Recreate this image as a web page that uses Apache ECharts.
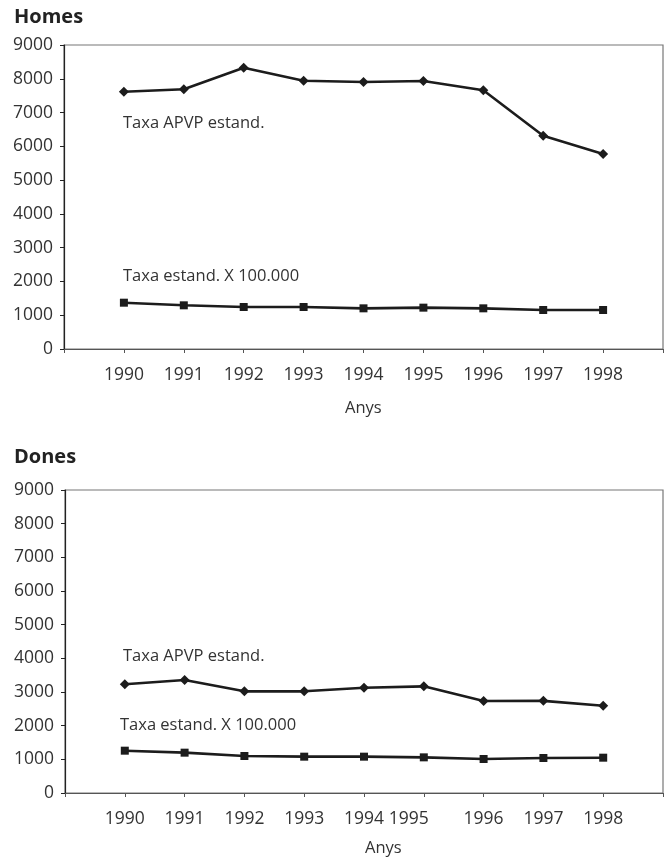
<!DOCTYPE html>
<html>
<head>
<meta charset="utf-8">
<script src="https://cdn.jsdelivr.net/npm/echarts@6/dist/echarts.min.js"></script>
<style>
html,body{margin:0;padding:0;background:#fff;}
#c{width:666px;height:861px;}
</style>
</head>
<body>
<div id="c"></div>
<script>
const years = [1990, 1991, 1992, 1993, 1994, 1995, 1996, 1997, 1998];
const homesAPVP = [7617, 7688, 8328, 7943, 7904, 7934, 7658, 6315, 5773];
const homesTaxa = [1371, 1293, 1243, 1243, 1204, 1224, 1204, 1155, 1155];
const donesAPVP = [3228, 3356, 3020, 3020, 3128, 3168, 2732, 2737, 2593];
const donesTaxa = [1257, 1198, 1099, 1079, 1079, 1059, 1010, 1040, 1049];
const yTicks = [0, 1000, 2000, 3000, 4000, 5000, 6000, 7000, 8000, 9000];
const panelTitles = ['Homes', 'Dones'];
const xName = 'Anys';
const labelAPVP = 'Taxa APVP estand.';
const labelTaxa = 'Taxa estand. X 100.000';

const FONT = '"Open Sans", "Noto Sans", sans-serif';
const TXT = '#333333';
const LINE = '#1c1c1c';

function pairs(vals){ return years.map((y,i)=>[y, vals[i]]); }

function xAxis(idx, shift1995){
  return {
    type:'value', gridIndex: idx, min:1989, max:1999, interval:1,
    axisLine:{show:true, lineStyle:{color:'#555', width:1.2}},
    axisTick:{show:true, length:4, lineStyle:{color:'#555'}},
    splitLine:{show:false},
    axisLabel:{
      margin:17, fontFamily:FONT, fontSize:17.5, color:TXT,
      formatter:function(v){
        if (v < years[0] || v > years[years.length-1]) return '';
        if (shift1995 && v === 1995) return '{sh|' + v + '}';
        return String(v);
      },
      rich:{ sh:{fontFamily:FONT, fontSize:17.5, color:TXT, padding:[0,30,0,0]} }
    }
  };
}
function yAxis(idx){
  return {
    type:'value', gridIndex: idx, min:yTicks[0], max:yTicks[yTicks.length-1], interval:1000,
    axisLine:{show:true, lineStyle:{color:'#222', width:1.2}},
    axisTick:{show:true, length:4, lineStyle:{color:'#222'}},
    splitLine:{show:false},
    axisLabel:{margin:11, fontFamily:FONT, fontSize:17.5, color:TXT,
      formatter:function(v){ return String(v); }}
  };
}
function lineSeries(idx, vals, symbol, size){
  return {
    type:'line', xAxisIndex:idx, yAxisIndex:idx, data:pairs(vals),
    symbol:symbol, symbolSize:size, showAllSymbol:true,
    lineStyle:{color:LINE, width:2.6},
    itemStyle:{color:LINE, borderWidth:0},
    animation:false, z:5
  };
}
function txt(x, y, s){
  return {type:'text', left:x, top:y, style:{text:s, font:'16.5px ' + FONT, fill:TXT}};
}

const chart = echarts.init(document.getElementById('c'), null, {renderer:'canvas'});
chart.setOption({
  backgroundColor:'#ffffff',
  animation:false,
  grid:[
    {left:64, top:45, width:600, height:304, show:true, borderColor:'#777', borderWidth:1.2, backgroundColor:'transparent'},
    {left:65, top:490, width:598, height:303, show:true, borderColor:'#777', borderWidth:1.2, backgroundColor:'transparent'}
  ],
  xAxis:[xAxis(0,false), xAxis(1,true)],
  yAxis:[yAxis(0), yAxis(1)],
  series:[
    lineSeries(0, homesAPVP, 'diamond', 10),
    lineSeries(0, homesTaxa, 'rect', 8),
    lineSeries(1, donesAPVP, 'diamond', 10),
    lineSeries(1, donesTaxa, 'rect', 8)
  ],
  graphic:[
    {type:'text', left:14, top:7, style:{text:panelTitles[0], font:'bold 20px ' + FONT, fill:'#222'}},
    {type:'text', left:14, top:447, style:{text:panelTitles[1], font:'bold 20px ' + FONT, fill:'#222'}},
    txt(123, 115, labelAPVP),
    txt(123, 268, labelTaxa),
    txt(123, 648, labelAPVP),
    txt(120, 717, labelTaxa),
    txt(345, 400, xName),
    txt(365, 840, xName)
  ]
});
</script>
</body>
</html>
